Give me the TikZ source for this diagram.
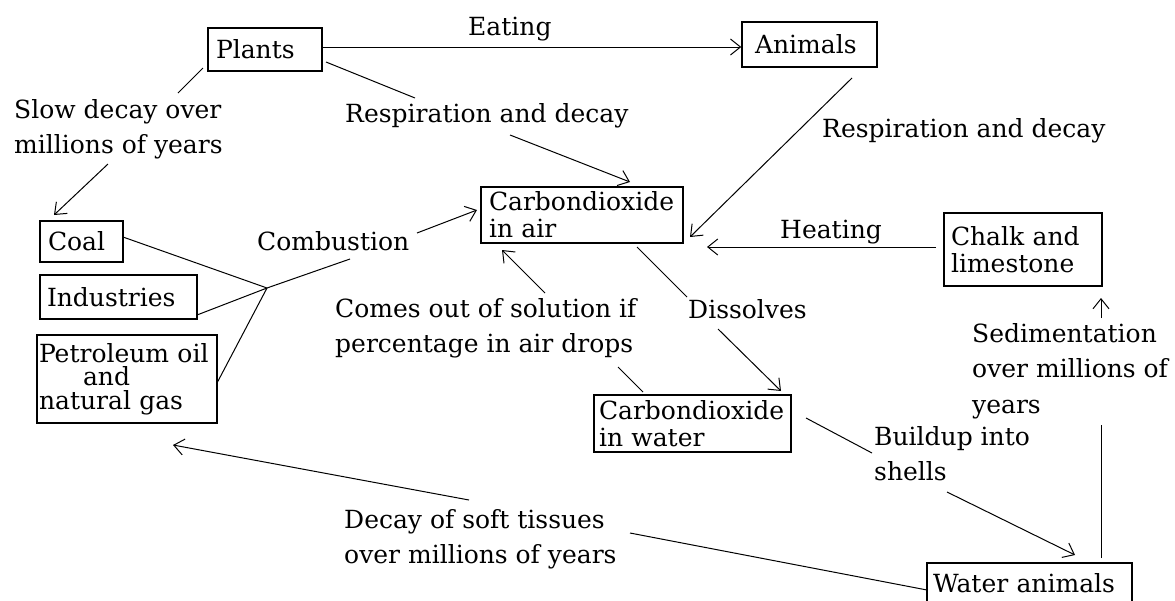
\documentclass[tikz,border=0pt]{standalone}
\usepackage{fontspec}
\setmainfont{DejaVu Serif}
\usetikzlibrary{arrows.meta}
\begin{document}
\begin{tikzpicture}[x=1pt,y=-1pt,
  every node/.style={font=\fontsize{25}{27}\selectfont, inner sep=0pt},
  box/.style={draw, line width=1.5pt, align=left, inner xsep=8pt, inner ysep=0pt},
  lbl/.style={anchor=base west},
  conn/.style={line width=1pt},
  arr/.style={conn, -{Straight Barb[length=10pt,width=16pt]}}]
\useasboundingbox (0,0) rectangle (1175,600);
% boxes
\node[box, minimum height=43pt, text width=98pt] (plants) at (265,49.5) {Plants};
\node[box, minimum height=45pt, text width=119pt, inner xsep=8pt] (animals) at (809.5,44.5) {\hspace*{5pt}Animals};
\node[box, minimum height=56pt, text width=186pt] (co2air) at (582,215) {Carbondioxide\\in air};
\node[box, minimum height=73pt, text width=144pt, inner xsep=7pt] (chalk) at (1023,249.5) {Chalk and\\limestone};
\node[box, minimum height=41pt, text width=67pt] (coal) at (81.5,241.5) {Coal};
\node[box, minimum height=44pt, text width=143pt, inner xsep=7pt] (industries) at (118.5,297) {Industries};
\node[box, minimum height=88pt, text width=176pt, inner xsep=2pt, font=\fontsize{25}{23.5}\selectfont] (petrol) at (127,379) {Petroleum oil\\\hspace*{44pt}and\\natural gas};
\node[box, minimum height=57pt, text width=187pt, inner xsep=5pt] (co2water) at (692.5,423.5) {Carbondioxide\\in water};
\node[box, minimum height=41pt, text width=193pt, inner xsep=6pt] (water) at (1029.5,583.5) {Water animals};
% labels
\node[lbl] (lEat) at (468,35) {Eating};
\node[lbl] (lResA) at (345,122) {Respiration and decay};
\node[lbl] (lResB) at (822,137) {Respiration and decay};
\node[lbl] (lHeat) at (780,238) {Heating};
\node[lbl] (lComb) at (257,250) {Combustion};
\node[lbl] (lSlowA) at (14,118) {Slow decay over};
\node[lbl] (lSlowB) at (14,153) {millions of years};
\node[lbl] (lComesA) at (335,317) {Comes out of solution if};
\node[lbl] (lComesB) at (335,352) {percentage in air drops};
\node[lbl] (lDiss) at (688,318) {Dissolves};
\node[lbl] (lBuildA) at (874,445) {Buildup into};
\node[lbl] (lBuildB) at (874,480) {shells};
\node[lbl] (lSedA) at (972,342) {Sedimentation};
\node[lbl] (lSedB) at (972,377) {over millions of};
\node[lbl] (lSedC) at (972,413) {years};
\node[lbl] (lDecA) at (344,528) {Decay of soft tissues};
\node[lbl] (lDecB) at (344,563) {over millions of years};
% connector points
\coordinate (r1a) at (326,62); \coordinate (r1b) at (415,98);
\coordinate (r1c) at (510,135); \coordinate (r1d) at (630,182);
\coordinate (r2a) at (852,78); \coordinate (r2b) at (690,237);
\coordinate (h1) at (936,247); \coordinate (h2) at (707,247);
\coordinate (J) at (267,288);
\coordinate (c1) at (123,237); \coordinate (c2) at (197,315); \coordinate (c3) at (217,383);
\coordinate (c4) at (350,259); \coordinate (c5) at (417,233); \coordinate (c6) at (477,210);
\coordinate (s1) at (203,68); \coordinate (s2) at (178,93);
\coordinate (s3) at (108,164); \coordinate (s4) at (54,215);
\coordinate (o1) at (643,392); \coordinate (o2) at (618,367);
\coordinate (o3) at (545,293); \coordinate (o4) at (502,250);
\coordinate (d1) at (637,247); \coordinate (d2) at (687,297);
\coordinate (d3) at (718,329); \coordinate (d4) at (781,391);
\coordinate (b1) at (806,418); \coordinate (b2) at (872,453);
\coordinate (b3) at (947,492); \coordinate (b4) at (1075,555);
\coordinate (e1) at (1101,558); \coordinate (e2) at (1101,425);
\coordinate (e3) at (1101,318); \coordinate (e4) at (1101,298);
\coordinate (f1) at (927,590); \coordinate (f2) at (630,533);
\coordinate (f3) at (469,500); \coordinate (f4) at (173,445);
% connectors
\draw[arr] (plants.east |- 0,47) -- (animals.west |- 0,47);
\draw[conn] (r1a) -- (r1b);
\draw[arr] (r1c) -- (r1d);
\draw[arr] (r2a) -- (r2b);
\draw[arr] (h1) -- (h2);
\draw[conn] (c1) -- (J) (c2) -- (J) (c3) -- (J) (J) -- (c4);
\draw[arr] (c5) -- (c6);
\draw[conn] (s1) -- (s2);
\draw[arr] (s3) -- (s4);
\draw[conn] (o1) -- (o2);
\draw[arr] (o3) -- (o4);
\draw[conn] (d1) -- (d2);
\draw[arr] (d3) -- (d4);
\draw[conn] (b1) -- (b2);
\draw[arr] (b3) -- (b4);
\draw[conn] (e1) -- (e2);
\draw[arr] (e3) -- (e4);
\draw[conn] (f1) -- (f2);
\draw[arr] (f3) -- (f4);
\end{tikzpicture}
\end{document}
